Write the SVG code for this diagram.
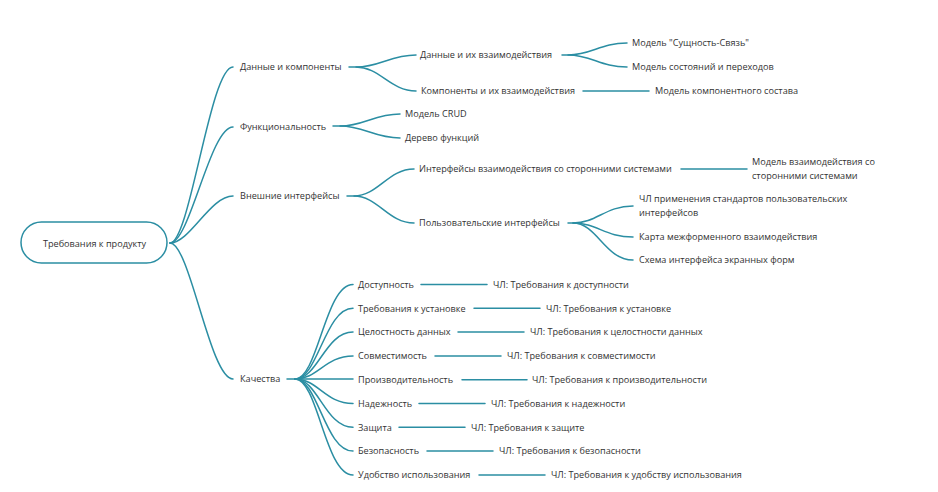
<svg xmlns="http://www.w3.org/2000/svg" width="938" height="492" viewBox="0 0 938 492">
<style>
text{font-family:"Open Sans","Noto Sans","Liberation Sans",sans-serif;font-size:9.15px;fill:#333}
.c{fill:none;stroke:#2b8ea3;stroke-width:1.5;stroke-linecap:round}
.root{fill:#fff;stroke:#2b8ea3;stroke-width:1.5}
</style>
<rect width="938" height="492" fill="#fff"/>
<g id="connectors">
<path class="c" d="M170,243 C190,243 210,67 233,67"/>
<path class="c" d="M170,243 C190,243 210,127 233,127"/>
<path class="c" d="M170,243 C190,243 210,196 233,196"/>
<path class="c" d="M170,243 C190,243 210,379 233,379"/>
<path class="c" d="M349,67 H356 C380,67 390,55 416,55"/>
<path class="c" d="M356,67 C380,67 390,91 416,91"/>
<path class="c" d="M333,126 H340 C364,126 374,114 400,114"/>
<path class="c" d="M340,126 C364,126 374,138 400,138"/>
<path class="c" d="M347,196 H354 C378,196 388,169 414,169"/>
<path class="c" d="M354,196 C378,196 388,223 414,223"/>
<path class="c" d="M562,55 H568 C592,55 600,43 627,43"/>
<path class="c" d="M568,55 C592,55 600,67 627,67"/>
<path class="c" d="M583,91 H649"/>
<path class="c" d="M681,169 H747"/>
<path class="c" d="M568,223 H573 C597,223 605,206 633,206"/>
<path class="c" d="M573,223 C597,223 605,237 633,237"/>
<path class="c" d="M573,223 C597,223 605,260 633,260"/>
<path class="c" d="M287,379 H295 C318,379 325,284.5 353,284.5"/>
<path class="c" d="M295,379 C318,379 325,308.3 353,308.3"/>
<path class="c" d="M295,379 C318,379 325,332.1 353,332.1"/>
<path class="c" d="M295,379 C318,379 325,355.9 353,355.9"/>
<path class="c" d="M295,379 H353"/>
<path class="c" d="M295,379 C318,379 325,403.5 353,403.5"/>
<path class="c" d="M295,379 C318,379 325,427.3 353,427.3"/>
<path class="c" d="M295,379 C318,379 325,451.1 353,451.1"/>
<path class="c" d="M295,379 C318,379 325,474.9 353,474.9"/>
<path class="c" d="M421,284.5 H487"/>
<path class="c" d="M474,308.3 H540"/>
<path class="c" d="M458,332.1 H524"/>
<path class="c" d="M435,355.9 H501"/>
<path class="c" d="M462,379.7 H527"/>
<path class="c" d="M419,403.5 H485"/>
<path class="c" d="M399,427.3 H465"/>
<path class="c" d="M427,451.1 H493"/>
<path class="c" d="M479,474.9 H545"/>
</g>
<g id="root"><rect class="root" x="21" y="222" width="146" height="41" rx="20.5"/><text x="94.5" y="246.5" text-anchor="middle">Требования к продукту</text></g>
<g id="n-data"><text x="240" y="70.3">Данные и компоненты</text></g>
<g id="n-func"><text x="240" y="130.3">Функциональность</text></g>
<g id="n-ext"><text x="240" y="199.3">Внешние интерфейсы</text></g>
<g id="n-qual"><text x="240" y="382.3">Качества</text></g>
<g id="n-data-int"><text x="420" y="58.3">Данные и их взаимодействия</text></g>
<g id="n-comp-int"><text x="421" y="94.3">Компоненты и их взаимодействия</text></g>
<g id="n-crud"><text x="405" y="117.3">Модель CRUD</text></g>
<g id="n-tree"><text x="405" y="141.3">Дерево функций</text></g>
<g id="n-ext-int"><text x="419" y="172.3">Интерфейсы взаимодействия со сторонними системами</text></g>
<g id="n-ui"><text x="419" y="226.3">Пользовательские интерфейсы</text></g>
<g id="n-er"><text x="632" y="46.3">Модель "Сущность-Связь"</text></g>
<g id="n-st"><text x="632" y="70.3">Модель состояний и переходов</text></g>
<g id="n-cm"><text x="655" y="94.3">Модель компонентного состава</text></g>
<g id="n-ext-model"><text x="752" y="165.3">Модель взаимодействия со</text><text x="752" y="179.3">сторонними системами</text></g>
<g id="n-ui-std"><text x="639" y="202.3">ЧЛ применения стандартов пользовательских</text><text x="639" y="216.3">интерфейсов</text></g>
<g id="n-ui-map"><text x="639" y="240.3">Карта межформенного взаимодействия</text></g>
<g id="n-ui-scheme"><text x="639" y="263.3">Схема интерфейса экранных форм</text></g>
<g id="q1"><text x="358" y="287.8">Доступность</text><text x="493" y="287.8">ЧЛ: Требования к доступности</text></g>
<g id="q2"><text x="358" y="311.6">Требования к установке</text><text x="546" y="311.6">ЧЛ: Требования к установке</text></g>
<g id="q3"><text x="358" y="335.4">Целостность данных</text><text x="530" y="335.4">ЧЛ: Требования к целостности данных</text></g>
<g id="q4"><text x="358" y="359.2">Совместимость</text><text x="507" y="359.2">ЧЛ: Требования к совместимости</text></g>
<g id="q5"><text x="358" y="383">Производительность</text><text x="532" y="383">ЧЛ: Требования к производительности</text></g>
<g id="q6"><text x="358" y="406.8">Надежность</text><text x="491" y="406.8">ЧЛ: Требования к надежности</text></g>
<g id="q7"><text x="358" y="430.6">Защита</text><text x="471" y="430.6">ЧЛ: Требования к защите</text></g>
<g id="q8"><text x="358" y="454.4">Безопасность</text><text x="499" y="454.4">ЧЛ: Требования к безопасности</text></g>
<g id="q9"><text x="358" y="478.2">Удобство использования</text><text x="551" y="478.2">ЧЛ: Требования к удобству использования</text></g>
</svg>
